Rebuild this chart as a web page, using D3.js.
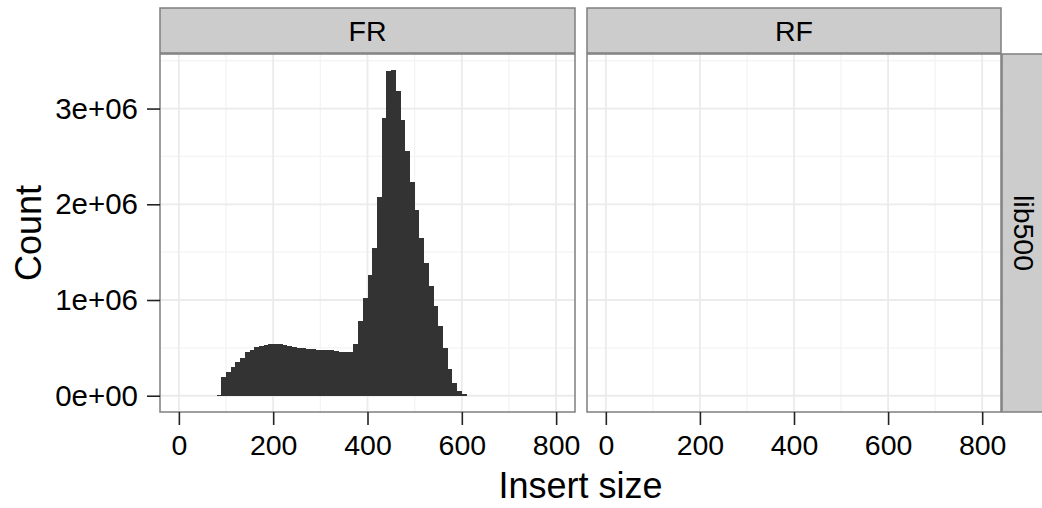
<!DOCTYPE html>
<html>
<head>
<meta charset="utf-8">
<script src="https://cdn.jsdelivr.net/npm/d3@7"></script>
<style>
  body { margin: 0; background: #fff; }
  svg { display: block; }
  text { font-family: "Liberation Sans", Arial, Helvetica, sans-serif; fill: #000; }
</style>
</head>
<body>
<svg id="chart" width="1042" height="508"></svg>
<script>
// Facet labels
const facets = ["FR", "RF"];
const rowLabel = "lib500";

// Histogram bins (left edge of each bin) and bin width
const binStart = [80, 90, 100, 110, 120, 130, 140, 150, 160, 170, 180, 190, 200, 210, 220, 230, 240, 250,
  260, 270, 280, 290, 300, 310, 320, 330, 340, 350, 360, 370, 380, 390, 400, 410, 420, 430, 440, 450,
  460, 470, 480, 490, 500, 510, 520, 530, 540, 550, 560, 570, 580, 590, 600];
const binWidth = 10;

// Read-pair counts per bin, FR orientation
const countFR = [12000, 192000, 245000, 297000, 350000, 399000, 455000, 479000, 504000, 521000,
  535000, 538000, 538000, 536000, 530000, 517000, 510000, 500000, 497000, 493000,
  483000, 480000, 479000, 478000, 476000, 466000, 462000, 461000, 462000, 538000,
  777000, 1022000, 1266000, 1547000, 2071000, 2900000, 3390000, 3400000, 3180000, 2880000,
  2560000, 2235000, 1938000, 1652000, 1389000, 1144000, 941000, 724000, 497000, 277000,
  137000, 49000, 15000];
// RF orientation has no pairs
const countRF = [];

// Axis breaks and labels
const xTicks = [0, 200, 400, 600, 800];
const xMinor = [100, 300, 500, 700];
const yTicks = [0, 1e6, 2e6, 3e6];
const yTickLabels = ["0e+00", "1e+06", "2e+06", "3e+06"];
const yMinor = [5e5, 1.5e6, 2.5e6, 3.5e6];
const xDomain = [-40, 840];
const yDomain = [-170000, 3570000];

const xTitle = "Insert size";
const yTitle = "Count";

// ---- layout ----
const svg = d3.select("#chart");
const panelTop = 54, panelBottom = 412;
const panels = [
  { name: facets[0], x0: 160, x1: 575, data: countFR },
  { name: facets[1], x0: 587, x1: 1001, data: countRF }
];
const stripH = 45;
const grey50 = "#7f7f7f";

const y = d3.scaleLinear().domain(yDomain).range([panelBottom, panelTop]);

panels.forEach((p, pi) => {
  const x = d3.scaleLinear().domain(xDomain).range([p.x0, p.x1]);
  const g = svg.append("g");

  // panel background
  g.append("rect")
    .attr("x", p.x0).attr("y", panelTop)
    .attr("width", p.x1 - p.x0).attr("height", panelBottom - panelTop)
    .attr("fill", "#fff");

  const clipId = "clip" + pi;
  svg.append("clipPath").attr("id", clipId)
    .append("rect").attr("x", p.x0).attr("y", panelTop)
    .attr("width", p.x1 - p.x0).attr("height", panelBottom - panelTop);

  const grid = g.append("g").attr("clip-path", `url(#${clipId})`);
  // minor grid
  grid.selectAll(".vmin").data(xMinor).join("line")
    .attr("x1", d => x(d)).attr("x2", d => x(d))
    .attr("y1", panelTop).attr("y2", panelBottom)
    .attr("stroke", "#f4f4f4").attr("stroke-width", 1.4);
  grid.selectAll(".hmin").data(yMinor).join("line")
    .attr("y1", d => y(d)).attr("y2", d => y(d))
    .attr("x1", p.x0).attr("x2", p.x1)
    .attr("stroke", "#f4f4f4").attr("stroke-width", 1.4);
  // major grid
  grid.selectAll(".vmaj").data(xTicks).join("line")
    .attr("x1", d => x(d)).attr("x2", d => x(d))
    .attr("y1", panelTop).attr("y2", panelBottom)
    .attr("stroke", "#ebebeb").attr("stroke-width", 1.8);
  grid.selectAll(".hmaj").data(yTicks).join("line")
    .attr("y1", d => y(d)).attr("y2", d => y(d))
    .attr("x1", p.x0).attr("x2", p.x1)
    .attr("stroke", "#ebebeb").attr("stroke-width", 1.8);

  // histogram bars
  g.append("g").attr("clip-path", `url(#${clipId})`)
    .attr("shape-rendering", "crispEdges")
    .selectAll("rect").data(p.data).join("rect")
    .attr("x", (d, i) => x(binStart[i]))
    .attr("width", (d, i) => x(binStart[i] + binWidth) - x(binStart[i]))
    .attr("y", d => y(d))
    .attr("height", d => Math.max(1, y(0) - y(d)))
    .attr("fill", "#333333");

  // panel border
  g.append("rect")
    .attr("x", p.x0).attr("y", panelTop)
    .attr("width", p.x1 - p.x0).attr("height", panelBottom - panelTop)
    .attr("fill", "none").attr("stroke", grey50).attr("stroke-width", 1.5);

  // top strip
  g.append("rect")
    .attr("x", p.x0).attr("y", panelTop - stripH - 1)
    .attr("width", p.x1 - p.x0).attr("height", stripH)
    .attr("fill", "#cccccc").attr("stroke", grey50).attr("stroke-width", 1.5);
  g.append("text")
    .attr("x", (p.x0 + p.x1) / 2).attr("y", panelTop - stripH / 2 - 1)
    .attr("text-anchor", "middle").attr("dominant-baseline", "central")
    .attr("font-size", 28.5)
    .text(p.name);

  // x axis
  const xAxis = d3.axisBottom(x).tickValues(xTicks).tickSize(13).tickPadding(10)
    .tickFormat(d3.format("d"));
  const ax = g.append("g").attr("transform", `translate(0,${panelBottom})`).call(xAxis);
  ax.select(".domain").remove();
  ax.selectAll(".tick line").attr("stroke", "#222").attr("stroke-width", 1.6);
  ax.selectAll(".tick text").attr("font-size", 28.5).attr("fill", "#1a1a1a")
    .attr("font-family", "'Liberation Sans', Arial, sans-serif");

  if (pi === 0) {
    const yAxis = d3.axisLeft(y).tickValues(yTicks).tickSize(13).tickPadding(9)
      .tickFormat((d, i) => yTickLabels[i]);
    const ay = g.append("g").attr("transform", `translate(${p.x0},0)`).call(yAxis);
    ay.select(".domain").remove();
    ay.selectAll(".tick line").attr("stroke", "#222").attr("stroke-width", 1.6);
    ay.selectAll(".tick text").attr("font-size", 29.5).attr("fill", "#1a1a1a")
      .attr("font-family", "'Liberation Sans', Arial, sans-serif");
  }
});

// right strip (row label)
const rsX = 1002;
svg.append("rect")
  .attr("x", rsX).attr("y", panelTop)
  .attr("width", stripH).attr("height", panelBottom - panelTop)
  .attr("fill", "#cccccc").attr("stroke", grey50).attr("stroke-width", 1.5);
svg.append("text")
  .attr("transform", `translate(${rsX + stripH / 2 - 1},${(panelTop + panelBottom) / 2}) rotate(90)`)
  .attr("text-anchor", "middle").attr("dominant-baseline", "central")
  .attr("font-size", 28.5)
  .text(rowLabel);

// axis titles
svg.append("text")
  .attr("x", (panels[0].x0 + panels[1].x1) / 2).attr("y", 498)
  .attr("text-anchor", "middle").attr("font-size", 36)
  .text(xTitle);
svg.append("text")
  .attr("transform", `translate(41,${(panelTop + panelBottom) / 2}) rotate(-90)`)
  .attr("text-anchor", "middle").attr("font-size", 36)
  .text(yTitle);
</script>
</body>
</html>
